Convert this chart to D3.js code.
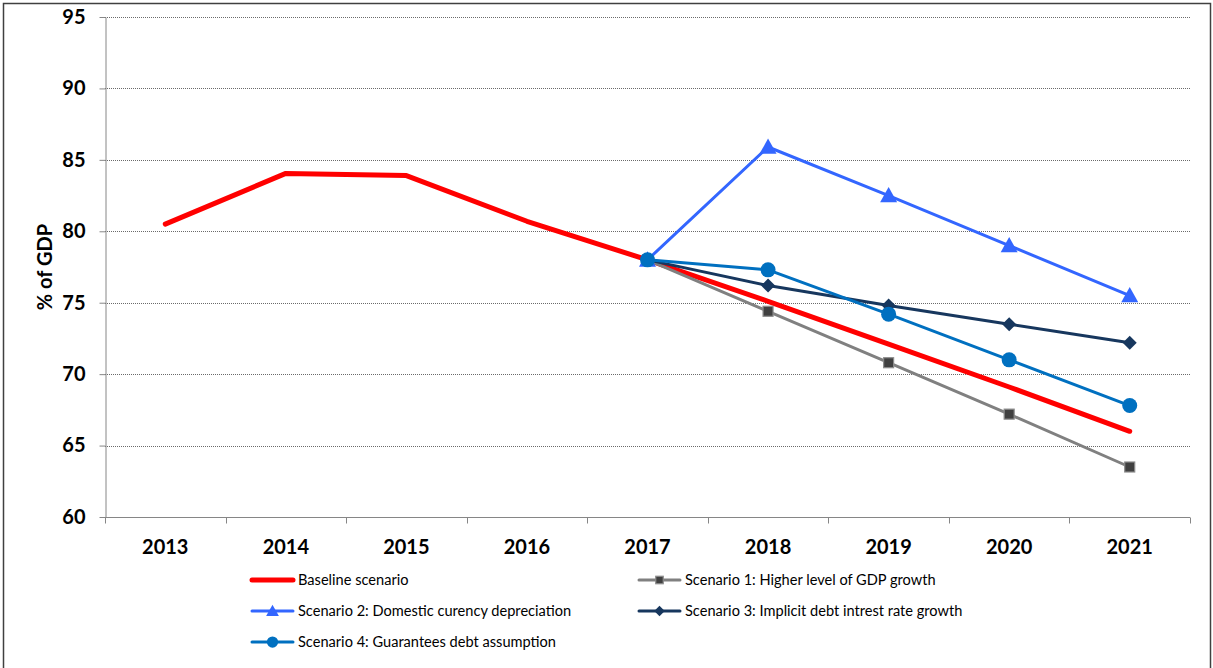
<!DOCTYPE html>
<html>
<head>
<meta charset="utf-8">
<script src="https://cdn.jsdelivr.net/npm/d3@7"></script>
<style>
  html, body { margin: 0; padding: 0; background: #fff; }
  svg { display: block; font-family: Lato, "Open Sans", sans-serif; }
</style>
</head>
<body>
<svg id="chart" width="1213" height="668"></svg>
<script>
// Public debt projections, % of GDP
const years = ["2013", "2014", "2015", "2016", "2017", "2018", "2019", "2020", "2021"];
const yTicks = [60, 65, 70, 75, 80, 85, 90, 95];

const baseline  = [80.5, 84.05, 83.9, 80.7, 78.0, 75.1, 72.1, 69.1, 66.0];
const scenario1 = [null, null, null, null, 78.0, 74.4, 70.8, 67.2, 63.5];
const scenario2 = [null, null, null, null, 78.0, 85.9, 82.5, 79.0, 75.5];
const scenario3 = [null, null, null, null, 78.0, 76.2, 74.8, 73.5, 72.2];
const scenario4 = [null, null, null, null, 78.0, 77.3, 74.2, 71.0, 67.8];

const seriesNames = [
  "Baseline scenario",
  "Scenario 1: Higher level of GDP growth",
  "Scenario 2: Domestic curency depreciation",
  "Scenario 3: Implicit debt intrest rate growth",
  "Scenario 4: Guarantees debt assumption"
];

const series = [
  { name: seriesNames[0], values: baseline,  color: "#FF0000", width: 5,   marker: null },
  { name: seriesNames[1], values: scenario1, color: "#808080", width: 3,   marker: "square" },
  { name: seriesNames[2], values: scenario2, color: "#3366FF", width: 3,   marker: "triangle" },
  { name: seriesNames[3], values: scenario3, color: "#17375E", width: 3,   marker: "diamond" },
  { name: seriesNames[4], values: scenario4, color: "#0070C0", width: 3,   marker: "circle" }
];

const svg = d3.select("#chart");
const plot = { left: 105, right: 1190, top: 17, bottom: 517 };

// outer frame
svg.append("rect")
  .attr("x", 3.5).attr("y", 3.5)
  .attr("width", 1207).attr("height", 670)
  .attr("fill", "none").attr("stroke", "#404040").attr("stroke-width", 1.5);

const x = d3.scaleBand().domain(years).range([plot.left, plot.right]).padding(0);
const y = d3.scaleLinear().domain([60, 95]).range([plot.bottom, plot.top]);

// gridlines
svg.append("g").selectAll("line")
  .data(yTicks.filter(t => t > 60))
  .join("line")
  .attr("x1", plot.left).attr("x2", plot.right)
  .attr("y1", d => Math.round(y(d)) + 0.5).attr("y2", d => Math.round(y(d)) + 0.5)
  .attr("stroke", "#6a6a6a").attr("stroke-width", 1)
  .attr("stroke-dasharray", "1,1");

// y axis
const yAxis = svg.append("g")
  .attr("transform", `translate(${plot.left + 0.5},0)`)
  .call(d3.axisLeft(y).tickValues(yTicks).tickSize(6).tickPadding(14).tickSizeOuter(0));
yAxis.select(".domain").attr("stroke", "#868686");
yAxis.selectAll(".tick line").attr("stroke", "#868686");
yAxis.selectAll(".tick text")
  .attr("font-family", "Lato, sans-serif").attr("font-weight", "bold")
  .attr("font-size", 20).attr("fill", "#000");

// x axis with tick marks on category boundaries
const xAxisG = svg.append("g").attr("transform", `translate(0,${plot.bottom + 0.5})`);
xAxisG.append("line")
  .attr("x1", plot.left).attr("x2", plot.right)
  .attr("stroke", "#868686");
const boundaries = years.map(yr => x(yr)).concat([x(years[years.length - 1]) + x.bandwidth()]);
xAxisG.selectAll("line.tk")
  .data(boundaries)
  .join("line").attr("class", "tk")
  .attr("x1", d => Math.round(d) + 0.5).attr("x2", d => Math.round(d) + 0.5)
  .attr("y1", 0).attr("y2", 6)
  .attr("stroke", "#868686");
xAxisG.selectAll("text")
  .data(years)
  .join("text")
  .attr("x", d => x(d) + x.bandwidth() / 2)
  .attr("y", 36)
  .attr("text-anchor", "middle")
  .attr("font-family", "Lato, sans-serif").attr("font-weight", "bold")
  .attr("font-size", 20).attr("fill", "#000")
  .text(d => d);

// y axis title
svg.append("text")
  .attr("transform", `translate(52,${(plot.top + plot.bottom) / 2}) rotate(-90)`)
  .attr("text-anchor", "middle")
  .attr("font-family", "Lato, sans-serif").attr("font-weight", "bold")
  .attr("font-size", 20).attr("fill", "#000")
  .text("% of GDP");

const cx = i => x(years[i]) + x.bandwidth() / 2;

const line = d3.line()
  .defined(d => d != null)
  .x((d, i) => cx(i))
  .y(d => y(d));

function drawMarker(g, type, px, py, color, scale) {
  const s = scale || 1;
  if (type === "square") {
    g.append("rect")
      .attr("x", px - 5 * s).attr("y", py - 5 * s)
      .attr("width", 10 * s).attr("height", 10 * s)
      .attr("fill", "#404040").attr("stroke", "#8c8c8c").attr("stroke-width", 1.2);
  } else if (type === "triangle") {
    const h = 8.5 * s;
    g.append("path")
      .attr("d", `M${px},${py - h} L${px + h},${py + h * 0.8} L${px - h},${py + h * 0.8} Z`)
      .attr("fill", color);
  } else if (type === "diamond") {
    const h = 7 * s;
    g.append("path")
      .attr("d", `M${px},${py - h} L${px + h},${py} L${px},${py + h} L${px - h},${py} Z`)
      .attr("fill", color);
  } else if (type === "circle") {
    g.append("circle")
      .attr("cx", px).attr("cy", py).attr("r", 7.5 * s)
      .attr("fill", color);
  }
}

// series lines and markers
series.forEach(s => {
  const g = svg.append("g");
  g.append("path")
    .datum(s.values)
    .attr("d", line)
    .attr("fill", "none")
    .attr("stroke", s.color)
    .attr("stroke-width", s.width)
    .attr("stroke-linecap", "round")
    .attr("stroke-linejoin", "round");
  if (s.marker) {
    s.values.forEach((v, i) => {
      if (v != null) drawMarker(g, s.marker, cx(i), y(v), s.color, 1);
    });
  }
});

// legend
const legendPos = [
  { x: 252, y: 580 }, { x: 639, y: 580 },
  { x: 252, y: 611 }, { x: 639, y: 611 },
  { x: 252, y: 642 }
];
series.forEach((s, i) => {
  const p = legendPos[i];
  const g = svg.append("g");
  g.append("line")
    .attr("x1", p.x).attr("x2", p.x + 41)
    .attr("y1", p.y).attr("y2", p.y)
    .attr("stroke", s.color).attr("stroke-width", s.width)
    .attr("stroke-linecap", "round");
  if (s.marker) drawMarker(g, s.marker, p.x + 20.5, p.y, s.color, 0.75);
  g.append("text")
    .attr("x", p.x + 46).attr("y", p.y + 5)
    .attr("font-family", "Lato, sans-serif")
    .attr("font-size", 14.6).attr("fill", "#000")
    .text(s.name);
});
</script>
</body>
</html>
